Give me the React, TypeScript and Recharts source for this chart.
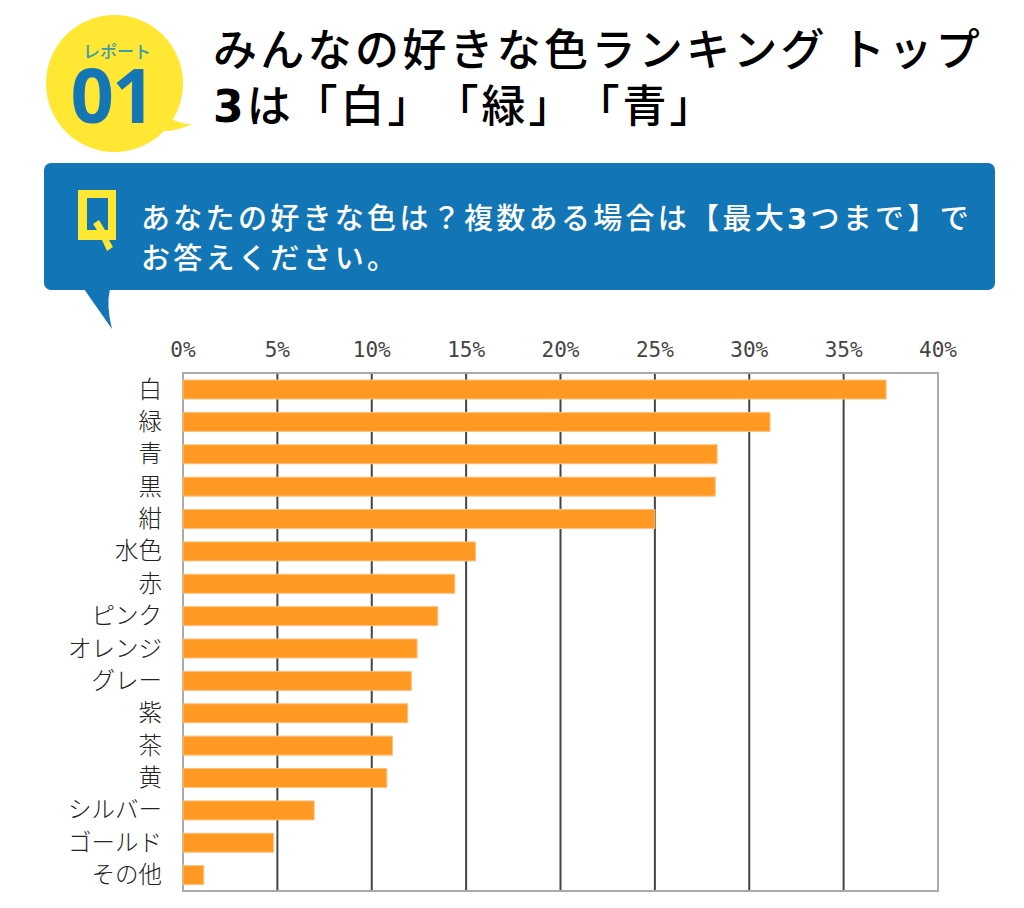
import { Bar, BarChart, CartesianGrid, ReferenceArea, ReferenceLine, XAxis, YAxis } from 'recharts';

const colors = [
  '白', '緑', '青', '黒', '紺', '水色', '赤', 'ピンク',
  'オレンジ', 'グレー', '紫', '茶', '黄', 'シルバー', 'ゴールド', 'その他',
];
const shares = [37.25, 31.1, 28.3, 28.2, 25.0, 15.5, 14.4, 13.5, 12.4, 12.1, 11.9, 11.1, 10.8, 6.95, 4.8, 1.1];
const percentTicks = [0, 5, 10, 15, 20, 25, 30, 35, 40];

const titleLines = ['みんなの好きな色ランキング トップ', '3は「白」「緑」「青」'];
const questionLines = ['あなたの好きな色は？複数ある場合は【最大3つまで】で', 'お答えください。'];

const chartData = colors.map((color, i) => ({ color, share: shares[i] }));

const JP = '"Noto Sans CJK JP", sans-serif';
const LATIN = '"DejaVu Sans", sans-serif';
// keep the brackets full width, the original does not squeeze them
const fullWidth = { textSpacingTrim: 'space-all', fontKerning: 'none' } as React.CSSProperties;

// the digit is bold DejaVu, the kana around it stay lighter
function Line({ text, x, y, size, spacing, fill, weight }: { text: string; x: number; y: number; size: number; spacing: number; fill: string; weight: number }) {
  return (
    <text x={x} y={y} fontSize={size} fill={fill} fontFamily={JP} fontWeight={weight} letterSpacing={spacing} style={fullWidth}>
      {text.split(/(\d)/).map((part, i) =>
        /\d/.test(part) ? (
          <tspan key={i} fontFamily={LATIN} fontWeight={700}>{part}</tspan>
        ) : (
          <tspan key={i}>{part}</tspan>
        ),
      )}
    </text>
  );
}

function Header() {
  return (
    <svg width={1024} height={335} style={{ position: 'absolute', left: 0, top: 0 }}>
      <circle cx={114.5} cy={83.5} r={68.5} fill="#FFE733" />
      <path d="M170 118 Q180 124 192 124 Q175 132 160 131 Z" fill="#FFE733" />
      <text x={117} y={58} textAnchor="middle" fontSize={17} fontWeight={500} fill="#3E9DA8" fontFamily={JP}>レポート</text>
      <text x={112} y={123} textAnchor="middle" fontSize={76} fontWeight={700} fill="#1476B5" fontFamily="'Open Sans', sans-serif" letterSpacing={-2}>01</text>

      <Line text={titleLines[0]} x={213} y={66} size={44} spacing={3.3} fill="#000" weight={500} />
      <Line text={titleLines[1]} x={213} y={122} size={44} spacing={3} fill="#000" weight={500} />

      <rect x={44} y={163} width={951} height={127} rx={7} fill="#1275B5" />
      <path d="M84 289 L110 289 Q106 305 112 329 Z" fill="#1275B5" />
      <path d="M78 190 H116 V240 H109 L113 247 L107 251 L102 240 H78 Z M87 198 V230 H97 L93 224 L99 220 L105 230 H108 V198 Z" fill="#FFE733" fillRule="evenodd" />

      <Line text={questionLines[0]} x={141} y={229} size={29} spacing={3.3} fill="#fff" weight={500} />
      <Line text={questionLines[1]} x={141} y={269} size={29} spacing={3.3} fill="#fff" weight={500} />
    </svg>
  );
}

export default function App() {
  return (
    <div style={{ position: 'absolute', left: 0, top: 0, width: 1024, height: 908, background: '#fff', overflow: 'hidden' }}>
      <Header />
      <div style={{ position: 'absolute', left: 0, top: 330 }}>
        <BarChart
          width={1024}
          height={578}
          data={chartData}
          layout="vertical"
          margin={{ top: 0, right: 86, bottom: 17, left: 0 }}
        >
          <ReferenceArea x1={0} x2={40} fill="none" stroke="#AAAAAA" strokeWidth={2} />
          <CartesianGrid horizontal={false} stroke="#444" strokeWidth={2} syncWithTicks />
          <ReferenceLine x={40} stroke="#AAAAAA" strokeWidth={2} />
          <XAxis
            type="number"
            orientation="top"
            domain={[0, 40]}
            ticks={percentTicks}
            tickFormatter={(v: number) => `${v}%`}
            height={43}
            axisLine={false}
            tickLine={false}
            interval={0}
            tickMargin={10}
            tick={{ fontSize: 21, fill: '#444', fontFamily: '"DejaVu Sans Mono", monospace' }}
          />
          <YAxis
            type="category"
            dataKey="color"
            width={183}
            axisLine={false}
            tickLine={false}
            interval={0}
            tickMargin={15}
            tick={{ fontSize: 23.5, fill: '#222', fontFamily: JP, fontWeight: 300 }}
          />
          <Bar dataKey="share" barSize={19} fill="#FF9922" stroke="#FFC080" strokeWidth={1} isAnimationActive={false} />
        </BarChart>
      </div>
    </div>
  );
}
